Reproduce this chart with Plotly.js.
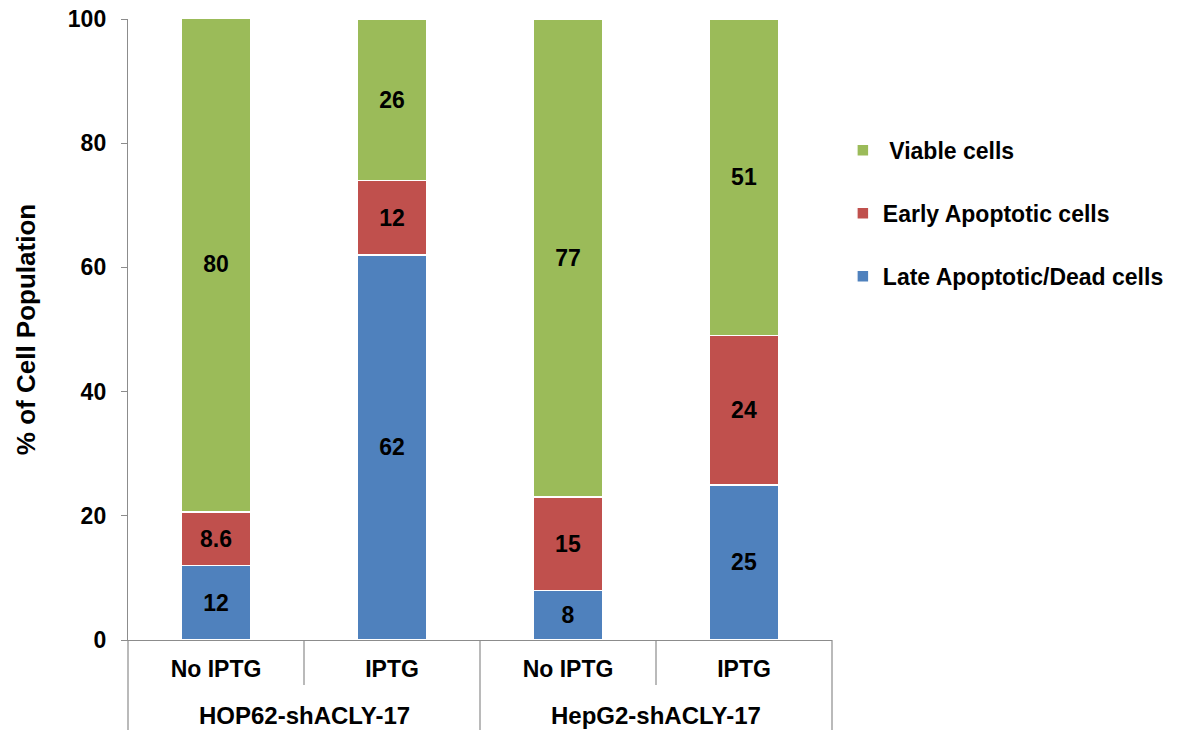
<!DOCTYPE html>
<html>
<head>
<meta charset="utf-8">
<script src="https://cdn.plot.ly/plotly-3.0.1.min.js"></script>
<style>html,body{margin:0;padding:0;background:#fff;}#chart{width:1180px;height:730px;}</style>
</head>
<body>
<div id="chart"></div>
<script>
const groups = ["HOP62-shACLY-17", "HOP62-shACLY-17", "HepG2-shACLY-17", "HepG2-shACLY-17"];
const conditions = ["No IPTG", "IPTG", "No IPTG", "IPTG"];
const lateDead = [12, 62, 8, 25];
const earlyApop = [8.6, 12, 15, 24];
const viable = [80, 26, 77, 51];
const seriesNames = ["Late Apoptotic/Dead cells", "Early Apoptotic cells", "Viable cells"];
const seriesColors = ["#4F81BD", "#C0504D", "#9BBB59"];
const yTicks = [0, 20, 40, 60, 80, 100];

const FONT = "Liberation Sans, Arial, sans-serif";
const AXC = "#8c8c8c";
const idx = conditions.map((_, i) => i);
const seriesData = [lateDead, earlyApop, viable];
const traces = seriesData.map((vals, i) => ({
  type: "bar",
  name: i === 2 ? " " + seriesNames[i] : seriesNames[i],
  x: idx,
  y: vals,
  marker: {color: seriesColors[i], line: {color: "#ffffff", width: 1.5}},
  texttemplate: "%{y}",
  textposition: "inside",
  insidetextanchor: "middle",
  constraintext: "none",
  textfont: {family: FONT, size: 23, color: "#000", weight: "bold"},
  hoverinfo: "y",
  legendgroup: "g" + i,
  legendrank: 3 - i
}));

// axis decorations: category boundaries and group labels
const n = conditions.length;
const toPaper = b => (b + 0.5) / n;
const plotH = 730 - 19 - 90;
const shapes = [];
const annotations = [];
for (let b = -0.5; b <= n - 0.5; b += 1) {
  const leftG = groups[Math.floor(b)], rightG = groups[Math.ceil(b)];
  const outer = (leftG === undefined || rightG === undefined || leftG !== rightG);
  shapes.push({type: "line", xref: "paper", yref: "paper",
    x0: toPaper(b), x1: toPaper(b), y0: 0, y1: outer ? -90 / plotH : -45 / plotH,
    line: {color: AXC, width: 1.2}});
}
const uniqueGroups = [...new Set(groups)];
uniqueGroups.forEach(g => {
  const members = idx.filter(i => groups[i] === g);
  const mid = members.reduce((a, c) => a + c, 0) / members.length;
  annotations.push({xref: "x", yref: "paper", x: mid, y: -75 / plotH, text: g,
    showarrow: false, yanchor: "middle", xanchor: "center",
    font: {family: FONT, size: 24, color: "#000", weight: "bold"}});
});

const layout = {
  width: 1180, height: 730,
  margin: {l: 128, r: 347, t: 19, b: 90},
  paper_bgcolor: "#fff", plot_bgcolor: "#fff",
  font: {family: FONT, size: 23, color: "#000", weight: "bold"},
  barmode: "stack",
  bargap: 0.61,
  showlegend: true,
  legend: {
    x: 1.014, y: 0.823, xanchor: "left", yanchor: "top",
    traceorder: "grouped", tracegroupgap: 30,
    font: {family: FONT, size: 23, color: "#000", weight: "bold"},
    itemwidth: 30
  },
  xaxis: {
    range: [-0.5, n - 0.5],
    tickvals: idx, ticktext: conditions,
    showline: true, linecolor: AXC, linewidth: 1.2,
    ticks: "", ticklabelstandoff: 8,
    tickfont: {family: FONT, size: 23, color: "#000", weight: "bold"},
    showgrid: false, zeroline: false
  },
  yaxis: {
    range: [0, 100], tickvals: yTicks, ticktext: yTicks.map(String),
    showline: true, linecolor: AXC, linewidth: 1.2,
    ticks: "outside", ticklen: 6, tickcolor: AXC, ticklabelstandoff: 10,
    showgrid: false, zeroline: false,
    tickfont: {family: FONT, size: 23, color: "#000", weight: "bold"},
    title: {text: "% of Cell Population", font: {family: FONT, size: 26, color: "#000", weight: "bold"}, standoff: 24}
  },
  shapes: shapes,
  annotations: annotations
};

Plotly.newPlot("chart", traces, layout, {displayModeBar: false, staticPlot: true});
</script>
</body>
</html>
